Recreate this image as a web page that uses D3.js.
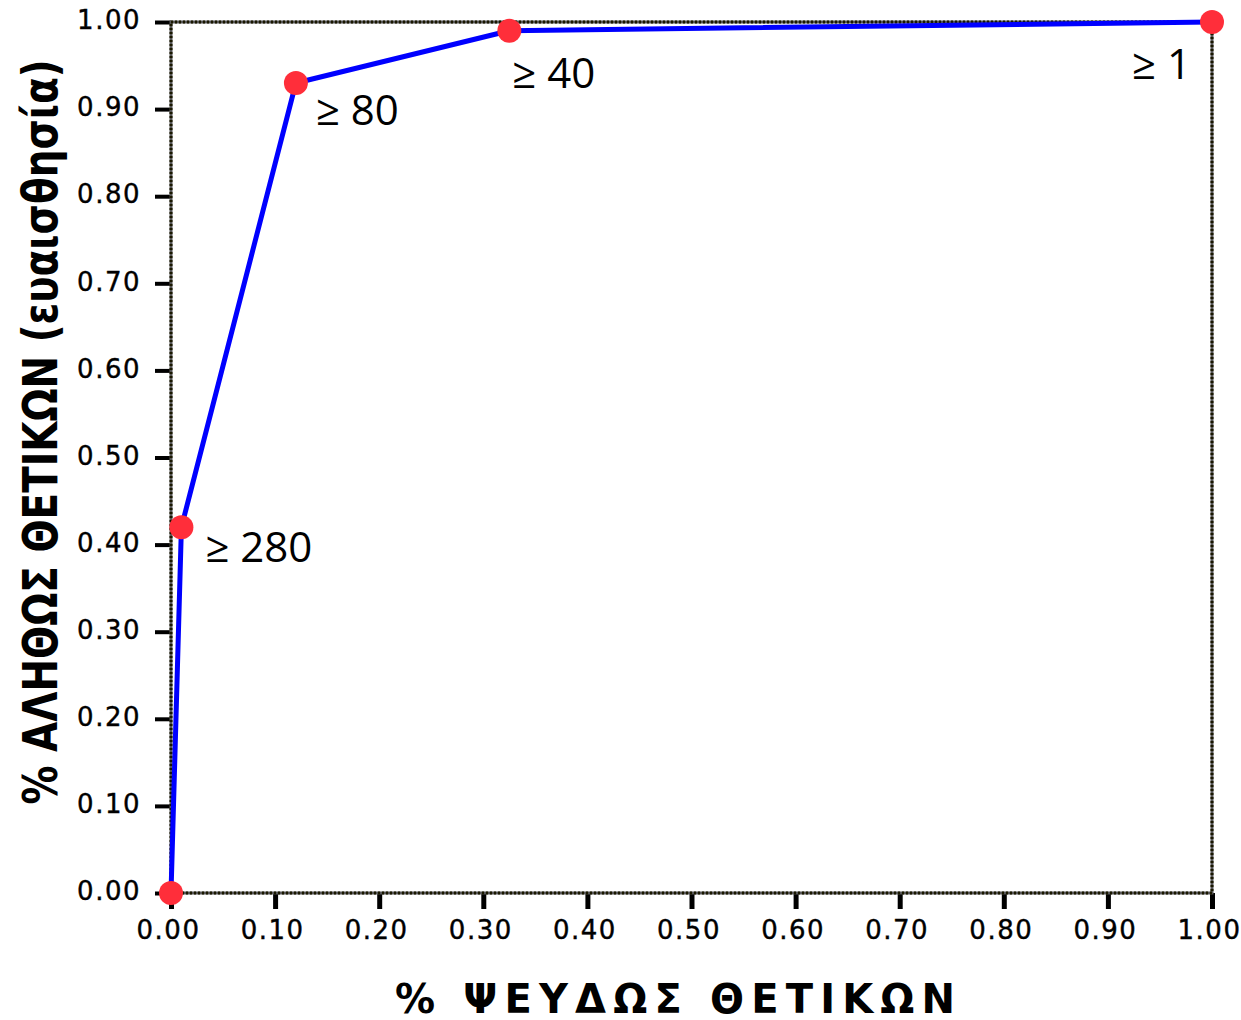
<!DOCTYPE html>
<html>
<head>
  <meta charset='utf-8'>
  <title>ROC</title>
  <script src="https://cdnjs.cloudflare.com/ajax/libs/d3/7.8.5/d3.min.js"></script>
  <style>
    html, body { margin: 0; padding: 0; background: #fff; }
    .tick-label { font-family: 'DejaVu Sans', sans-serif; font-size: 26px; letter-spacing: 1.5px; fill: #000; stroke: #000; stroke-width: 0.4px; }
    .axis-title { font-family: 'DejaVu Sans', sans-serif; font-weight: bold; fill: #000; }
    .annot { font-family: 'Open Sans', sans-serif; font-size: 42px; fill: #000; }
  </style>
</head>
<body>
  <svg id="chart"></svg>
  <script>
    // ROC points (false positive rate, true positive rate) and cut-off labels
    const fpr = [0, 0.01, 0.12, 0.325, 1.0];
    const tpr = [0, 0.42, 0.93, 0.99, 1.0];
    const cutoffs = ["", "≥ 280", "≥ 80", "≥ 40", "≥ 1"];
    const xTicks = [0, 0.1, 0.2, 0.3, 0.4, 0.5, 0.6, 0.7, 0.8, 0.9, 1.0];
    const yTicks = [0, 0.1, 0.2, 0.3, 0.4, 0.5, 0.6, 0.7, 0.8, 0.9, 1.0];
    const xTitle = "% ΨΕΥΔΩΣ ΘΕΤΙΚΩΝ";
    const yTitle = "% ΑΛΗΘΩΣ ΘΕΤΙΚΩΝ (ευαισθησία)";

    const width = 1241, height = 1020;
    const plotLeft = 171, plotRight = 1212, plotTop = 22, plotBottom = 893;

    const svg = d3.select('#chart').attr('width', width).attr('height', height);

    const x = d3.scaleLinear().domain([0, 1]).range([plotLeft, plotRight]);
    const y = d3.scaleLinear().domain([0, 1]).range([plotBottom, plotTop]);

    // y axis
    const yAxis = d3.axisLeft(y).tickValues(yTicks).tickFormat(d3.format('.2f'))
      .tickSize(16).tickPadding(14);
    const gy = svg.append('g').attr('transform', `translate(${plotLeft},0)`).call(yAxis);
    gy.select('.domain').remove();
    gy.selectAll('.tick line').attr('stroke', '#000').attr('stroke-width', 4);
    gy.selectAll('.tick text').attr('class', 'tick-label').attr('dy', '0.26em');

    // x axis
    const xAxis = d3.axisBottom(x).tickValues(xTicks).tickFormat(d3.format('.2f'))
      .tickSize(16).tickPadding(12);
    const gx = svg.append('g').attr('transform', `translate(0,${plotBottom})`).call(xAxis);
    gx.select('.domain').remove();
    gx.selectAll('.tick line').attr('stroke', '#000').attr('stroke-width', 5);
    gx.selectAll('.tick text').attr('class', 'tick-label').attr('dx', '-3px');

    // dotted frame
    const frame = svg.append('g');
    frame.append('rect').attr('x', plotLeft).attr('y', plotTop)
      .attr('width', plotRight - plotLeft).attr('height', plotBottom - plotTop)
      .attr('fill', 'none').attr('stroke', '#555').attr('stroke-width', 3);
    frame.append('rect').attr('x', plotLeft).attr('y', plotTop)
      .attr('width', plotRight - plotLeft).attr('height', plotBottom - plotTop)
      .attr('fill', 'none').attr('stroke', '#1a1800').attr('stroke-width', 3)
      .attr('stroke-dasharray', '2,2');

    // ROC curve
    const pts = fpr.map((v, i) => [v, tpr[i]]);
    const line = d3.line().x(d => x(d[0])).y(d => y(d[1]));
    svg.append('path').datum(pts)
      .attr('d', line)
      .attr('fill', 'none')
      .attr('stroke', '#0000ff')
      .attr('stroke-width', 5)
      .attr('stroke-linejoin', 'round');

    svg.selectAll('circle.pt').data(pts).join('circle')
      .attr('class', 'pt')
      .attr('cx', d => x(d[0]))
      .attr('cy', d => y(d[1]))
      .attr('r', 12)
      .attr('fill', '#ff2e3a');

    // cut-off labels
    const labelShift = [[0, 0], [24, 35], [20, 42], [3, 57], [-80, 57]];
    svg.selectAll('text.annot').data(pts).join('text')
      .attr('class', 'annot')
      .attr('x', (d, i) => x(d[0]) + labelShift[i][0])
      .attr('y', (d, i) => y(d[1]) + labelShift[i][1])
      .text((d, i) => cutoffs[i]);

    // axis titles
    svg.append('text').attr('class', 'axis-title')
      .attr('x', 675).attr('y', 1013)
      .attr('font-size', 40)
      .attr('text-anchor', 'middle')
      .attr('textLength', 560)
      .text(xTitle);

    svg.append('text').attr('class', 'axis-title')
      .attr('transform', 'translate(57,432) rotate(-90)')
      .attr('font-size', 48)
      .attr('text-anchor', 'middle')
      .attr('textLength', 745)
      .attr('lengthAdjust', 'spacingAndGlyphs')
      .text(yTitle);
  </script>
</body>
</html>
